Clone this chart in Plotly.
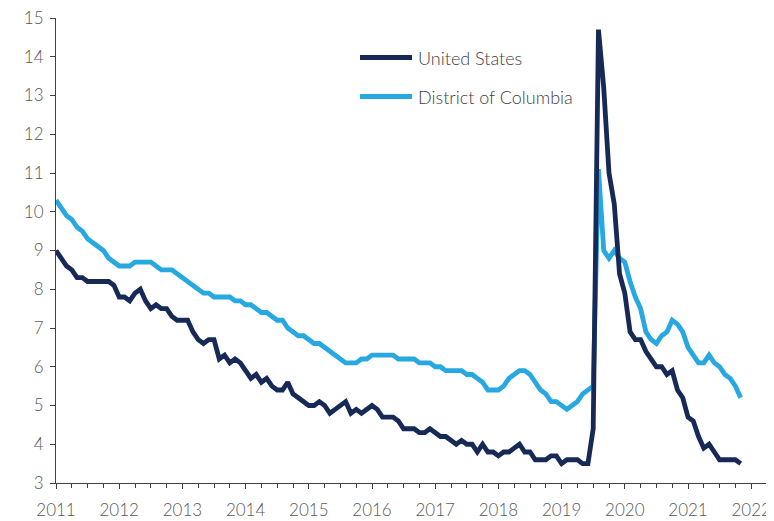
import plotly.graph_objects as go

# ---------------- data (monthly) ----------------
us_rate = [
    9.0, 8.8, 8.6, 8.5, 8.3, 8.3, 8.2, 8.2, 8.2, 8.2, 8.2, 8.1,
    7.8, 7.8, 7.7, 7.9, 8.0, 7.7, 7.5, 7.6, 7.5, 7.5, 7.3, 7.2,
    7.2, 7.2, 6.9, 6.7, 6.6, 6.7, 6.7, 6.2, 6.3, 6.1, 6.2, 6.1,
    5.9, 5.7, 5.8, 5.6, 5.7, 5.5, 5.4, 5.4, 5.6, 5.3, 5.2, 5.1,
    5.0, 5.0, 5.1, 5.0, 4.8, 4.9, 5.0, 5.1, 4.8, 4.9, 4.8, 4.9,
    5.0, 4.9, 4.7, 4.7, 4.7, 4.6, 4.4, 4.4, 4.4, 4.3, 4.3, 4.4,
    4.3, 4.2, 4.2, 4.1, 4.0, 4.1, 4.0, 4.0, 3.8, 4.0, 3.8, 3.8,
    3.7, 3.8, 3.8, 3.9, 4.0, 3.8, 3.8, 3.6, 3.6, 3.6, 3.7, 3.7,
    3.5, 3.6, 3.6, 3.6, 3.5, 3.5, 4.4, 14.7, 13.2, 11.0, 10.2, 8.4,
    7.9, 6.9, 6.7, 6.7, 6.4, 6.2, 6.0, 6.0, 5.8, 5.9, 5.4, 5.2,
    4.7, 4.6, 4.2, 3.9, 4.0, 3.8, 3.6, 3.6, 3.6, 3.6, 3.5,
]
dc_rate = [
    10.3, 10.1, 9.9, 9.8, 9.6, 9.5, 9.3, 9.2, 9.1, 9.0, 8.8, 8.7,
    8.6, 8.6, 8.6, 8.7, 8.7, 8.7, 8.7, 8.6, 8.5, 8.5, 8.5, 8.4,
    8.3, 8.2, 8.1, 8.0, 7.9, 7.9, 7.8, 7.8, 7.8, 7.8, 7.7, 7.7,
    7.6, 7.6, 7.5, 7.4, 7.4, 7.3, 7.2, 7.2, 7.0, 6.9, 6.8, 6.8,
    6.7, 6.6, 6.6, 6.5, 6.4, 6.3, 6.2, 6.1, 6.1, 6.1, 6.2, 6.2,
    6.3, 6.3, 6.3, 6.3, 6.3, 6.2, 6.2, 6.2, 6.2, 6.1, 6.1, 6.1,
    6.0, 6.0, 5.9, 5.9, 5.9, 5.9, 5.8, 5.8, 5.7, 5.6, 5.4, 5.4,
    5.4, 5.5, 5.7, 5.8, 5.9, 5.9, 5.8, 5.6, 5.4, 5.3, 5.1, 5.1,
    5.0, 4.9, 5.0, 5.1, 5.3, 5.4, 5.5, 11.1, 9.0, 8.8, 9.0, 8.8,
    8.7, 8.2, 7.8, 7.5, 6.9, 6.7, 6.6, 6.8, 6.9, 7.2, 7.1, 6.9,
    6.5, 6.3, 6.1, 6.1, 6.3, 6.1, 6.0, 5.8, 5.7, 5.5, 5.2,
]
year_labels = [str(y) for y in range(2011, 2023)]
series_names = ["United States", "District of Columbia"]

months = list(range(len(us_rate)))
year_ticks = [12 * k for k in range(len(year_labels))]

# ---------------- styling ----------------
US_COLOR = "#172a57"
DC_COLOR = "#27a8e0"
AXIS_COLOR = "#404040"
TEXT_COLOR = "#595959"
FONT = "Lato"

# the page body has an 8px margin, so the figure is drawn at (8, 8)
OFF = 8
W, H = 774 - OFF, 521 - OFF
ML, MR, MT, MB = 56 - OFF, 7, 18 - OFF, 38
PW, PH = W - ML - MR, H - MT - MB

fig = go.Figure()
fig.add_trace(go.Scatter(x=months, y=dc_rate, mode="lines", name=series_names[1],
                         line=dict(color=DC_COLOR, width=4.8), showlegend=False))
fig.add_trace(go.Scatter(x=months, y=us_rate, mode="lines", name=series_names[0],
                         line=dict(color=US_COLOR, width=4.8), showlegend=False))

# manual legend (long line samples as in the reference); positions in page px
def px_x(p):
    return (p - OFF - ML) / PW

def px_y(p):
    return (H - MB - (p - OFF)) / PH

legend_rows = [(series_names[0], US_COLOR, 57.5), (series_names[1], DC_COLOR, 96.5)]
for name, col, py in legend_rows:
    fig.add_shape(type="line", xref="paper", yref="paper",
                  x0=px_x(360), x1=px_x(412), y0=px_y(py), y1=px_y(py),
                  line=dict(color=col, width=4.8))
    fig.add_annotation(xref="paper", yref="paper", x=px_x(416), y=px_y(py),
                       text=name, showarrow=False, xanchor="left", yanchor="middle",
                       font=dict(family=FONT, size=18, color="#404040", weight=300))

fig.update_layout(
    width=W, height=H,
    margin=dict(l=ML, r=MR, t=MT, b=MB, pad=0, autoexpand=False),
    paper_bgcolor="white", plot_bgcolor="white",
    font=dict(family=FONT, size=17, color=TEXT_COLOR, weight=300),
    xaxis=dict(range=[0, 135], tickvals=year_ticks, ticktext=year_labels,
               automargin=False, ticklabeloverflow="allow", ticklabelstandoff=7,
               showgrid=False, zeroline=False, showline=True, linecolor=AXIS_COLOR,
               linewidth=1, ticks="outside", ticklen=5, tickcolor=AXIS_COLOR,
               minor=dict(dtick=3, tick0=0, ticks="outside", ticklen=4,
                          tickcolor=AXIS_COLOR, showgrid=False),
               tickfont=dict(family=FONT, size=17, color=TEXT_COLOR, weight=300)),
    yaxis=dict(range=[3, 15], dtick=1, tick0=3, automargin=False,
               ticklabeloverflow="allow", ticklabelstandoff=3,
               showgrid=False, zeroline=False, showline=True, linecolor=AXIS_COLOR,
               linewidth=1, ticks="outside", ticklen=5, tickcolor=AXIS_COLOR,
               tickfont=dict(family=FONT, size=17, color=TEXT_COLOR, weight=300)),
)

fig.write_html("out.html")
